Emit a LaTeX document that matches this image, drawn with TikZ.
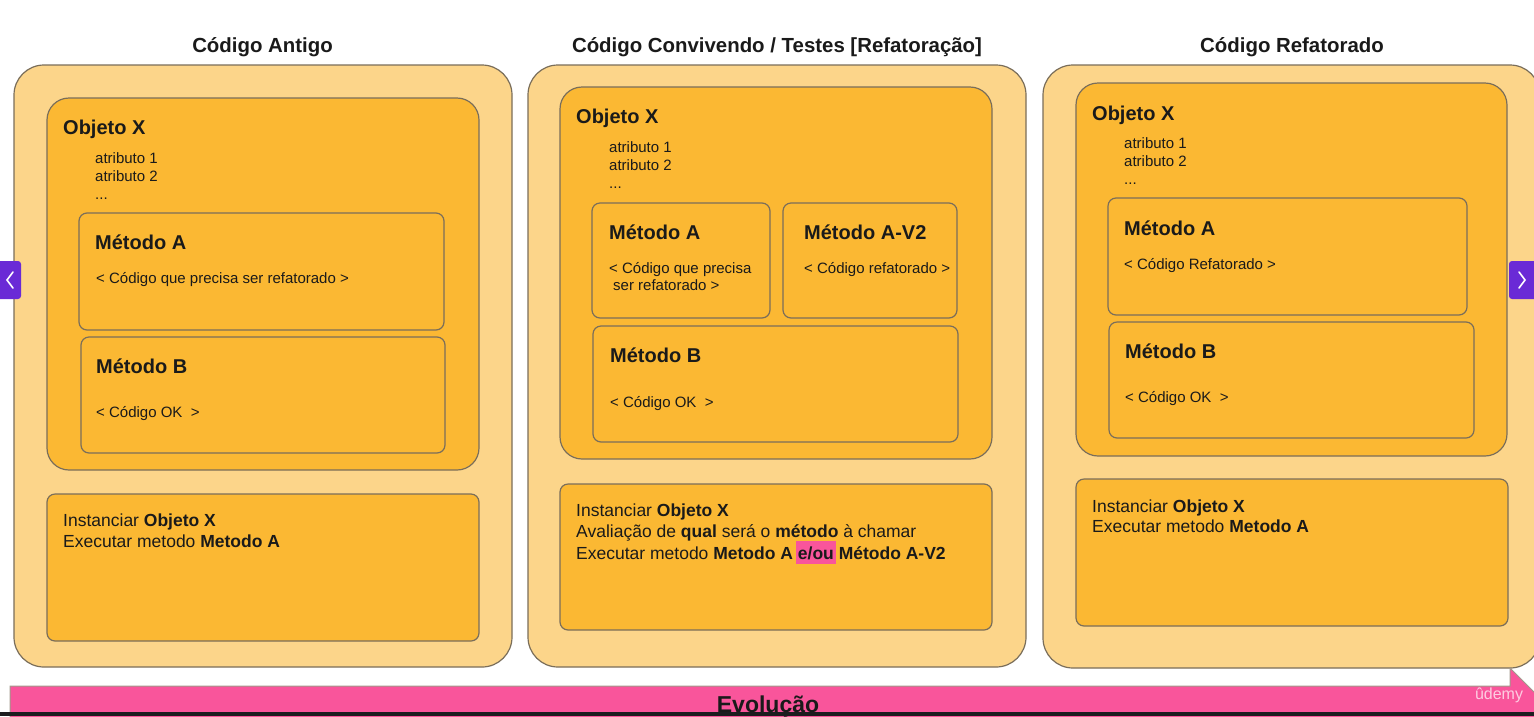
\documentclass[tikz,border=0pt]{standalone}
\usepackage{fontspec}
\setmainfont{Liberation Sans}
\definecolor{outerfill}{HTML}{FCD58A}
\definecolor{innerfill}{HTML}{FBB833}
\definecolor{edge}{HTML}{7A6E5A}
\definecolor{evo}{HTML}{F9559B}
\definecolor{ink}{HTML}{1A1A1A}
\definecolor{navpurple}{HTML}{6A2AD6}
\definecolor{playerbar}{HTML}{1C1D1F}
\newcommand{\hilite}[1]{{\setlength{\fboxsep}{0pt}\kern-2pt\colorbox{evo}{\kern2pt\rule[-5pt]{0pt}{23pt}#1\kern2pt}\kern-2pt}}
\tikzset{
  panel/.style={draw=edge, line width=1.2pt, fill=outerfill, rounded corners=30pt},
  objbox/.style={draw=edge, line width=1.2pt, fill=innerfill, rounded corners=22pt},
  methbox/.style={draw=edge, line width=1.2pt, fill=innerfill, rounded corners=8pt},
  ptitle/.style={font=\fontsize{20.4}{24}\selectfont\bfseries, text=ink, inner sep=0pt, anchor=base},
  head/.style={font=\fontsize{20}{24}\selectfont\bfseries, text=ink, inner sep=0pt, anchor=base west},
  small/.style={font=\fontsize{15}{18}\selectfont, text=ink, inner sep=0pt, anchor=base west},
  body/.style={font=\fontsize{17.5}{20}\selectfont, text=ink, inner sep=0pt, anchor=base west},
}
\begin{document}
\begin{tikzpicture}[x=1pt, y=-1pt]
\useasboundingbox (0,0) rectangle (1534,716);
\fill[white] (0,0) rectangle (1534,716);
\clip (0,0) rectangle (1534,716);

% ---------- Panel 1 ----------
\node[ptitle] (t1) at (262.5,52) {Código Antigo};
\draw[panel] (14,65) rectangle (512,667);
\draw[objbox] (47,98) rectangle (479,470);
\node[head] (o1) at (63,134) {Objeto X};
\node[small] (o1a) at (95,163) {atributo 1};
\node[small] (o1b) at (95,181) {atributo 2};
\node[small] (o1c) at (95,199) {...};
\draw[methbox] (79,213) rectangle (444,330);
\node[head] (m1a) at (95,249) {Método A};
\node[small] (m1at) at (96,283) {< Código que precisa ser refatorado >};
\draw[methbox] (81,337) rectangle (445,453);
\node[head] (m1b) at (96,373) {Método B};
\node[small] (m1bt) at (96,417) {< Código OK~ >};
\draw[methbox] (47,494) rectangle (479,641);
\node[body] (b1a) at (63,526) {Instanciar \textbf{Objeto X}};
\node[body] (b1b) at (63,547) {Executar metodo \textbf{Metodo A}};

% ---------- Panel 2 ----------
\node[ptitle] (t2) at (777,52) {Código Convivendo / Testes [Refatoração]};
\draw[panel] (528,65) rectangle (1026,667);
\draw[objbox] (560,87) rectangle (992,459);
\node[head] (o2) at (576,123) {Objeto X};
\node[small] (o2a) at (609,152) {atributo 1};
\node[small] (o2b) at (609,170) {atributo 2};
\node[small] (o2c) at (609,188) {...};
\draw[methbox] (592,203) rectangle (770,318);
\node[head] (m2a) at (609,239) {Método A};
\node[small] (m2at1) at (609,273) {< Código que precisa};
\node[small] (m2at2) at (613,290) {ser refatorado >};
\draw[methbox] (783,203) rectangle (957,318);
\node[head] (m2v) at (804,239) {Método A-V2};
\node[small] (m2vt) at (804,273) {< Código refatorado >};
\draw[methbox] (593,326) rectangle (958,442);
\node[head] (m2b) at (610,362) {Método B};
\node[small] (m2bt) at (610,407) {< Código OK~ >};
\draw[methbox] (560,484) rectangle (992,630);
\node[body] (b2a) at (576,516) {Instanciar \textbf{Objeto X}};
\node[body] (b2b) at (576,537) {Avaliação de \textbf{qual} será o \textbf{método} à chamar};
\node[body] (b2c) at (576,559) {Executar metodo \textbf{Metodo A \hilite{e/ou} Método A-V2}};

% ---------- Panel 3 ----------
\node[ptitle] (t3) at (1292,52) {Código Refatorado};
\draw[panel] (1043,65) rectangle (1540,668);
\draw[objbox] (1076,83) rectangle (1507,456);
\node[head] (o3) at (1092,120) {Objeto X};
\node[small] (o3a) at (1124,148) {atributo 1};
\node[small] (o3b) at (1124,166) {atributo 2};
\node[small] (o3c) at (1124,184) {...};
\draw[methbox] (1108,198) rectangle (1467,315);
\node[head] (m3a) at (1124,235) {Método A};
\node[small] (m3at) at (1124,269) {< Código Refatorado >};
\draw[methbox] (1109,322) rectangle (1474,438);
\node[head] (m3b) at (1125,358) {Método B};
\node[small] (m3bt) at (1125,402) {< Código OK~ >};
\draw[methbox] (1076,479) rectangle (1508,626);
\node[body] (b3a) at (1092,512) {Instanciar \textbf{Objeto X}};
\node[body] (b3b) at (1092,532) {Executar metodo \textbf{Metodo A}};

% ---------- Evolution arrow ----------
\draw[draw=edge!70, line width=1pt, fill=evo] (10,686) -- (1510,686) -- (1510,668) -- (1556,714) -- (1510,760) -- (1510,742) -- (10,742) -- cycle;
\node[font=\fontsize{23}{26}\selectfont\bfseries, text=ink, inner sep=0pt, anchor=base] (evol) at (768,712) {Evolução};
\node[font=\fontsize{16}{18}\selectfont, text=white, opacity=0.7, inner sep=0pt] (udemy) at (1499,695) {ûdemy};
\fill[playerbar] (0,712) rectangle (1534,716);

% ---------- nav buttons ----------
\fill[navpurple, rounded corners=3pt] (-5,261) rectangle (21,299);
\draw[white, line width=1.6pt, line cap=round] (13,272) -- (7,280) -- (13,288);
\fill[navpurple, rounded corners=3pt] (1509,261) rectangle (1540,299);
\draw[white, line width=1.6pt, line cap=round] (1519,272) -- (1525,280) -- (1519,288);
\end{tikzpicture}
\end{document}
